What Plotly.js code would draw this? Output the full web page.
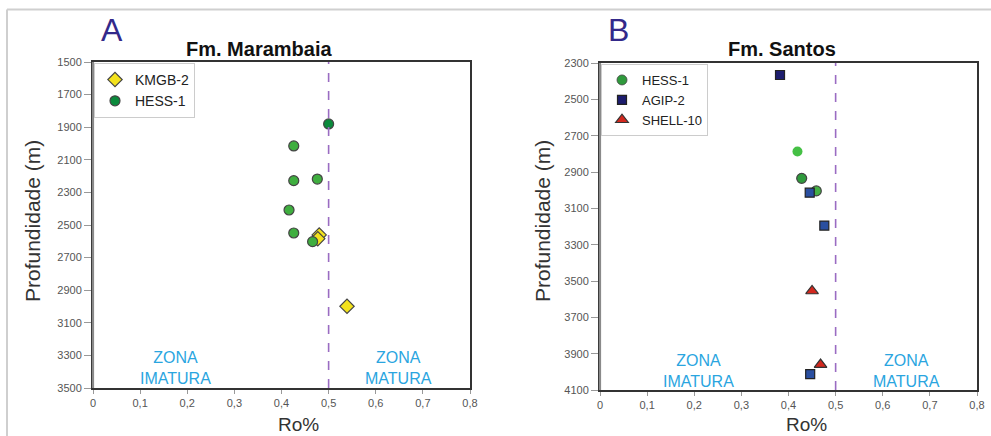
<!DOCTYPE html>
<html>
<head>
<meta charset="utf-8">
<script src="https://cdn.plot.ly/plotly-3.0.1.min.js"></script>
<style>html,body{margin:0;padding:0;background:#fff;}#chart{width:991px;height:436px;}</style>
</head>
<body>
<div id="chart"></div>
<script>
// ---- Data ----
const xTickVals = [0, 0.1, 0.2, 0.3, 0.4, 0.5, 0.6, 0.7, 0.8];
const xTickLabels = ['0', '0,1', '0,2', '0,3', '0,4', '0,5', '0,6', '0,7', '0,8'];
const leftDepthTicks = [1500, 1700, 1900, 2100, 2300, 2500, 2700, 2900, 3100, 3300, 3500];
const rightDepthTicks = [2300, 2500, 2700, 2900, 3100, 3300, 3500, 3700, 3900, 4100];
const maturityThreshold = 0.5;

// Fm. Marambaia
const marKmgbRo = [0.480, 0.477, 0.539];
const marKmgbDepth = [2561, 2584, 2999];
const marHessRo = [0.500, 0.426, 0.426, 0.476, 0.416, 0.426, 0.466];
const marHessDepth = [1880, 2015, 2228, 2218, 2408, 2549, 2602];

// Fm. Santos
const sanHessRo = [0.428, 0.419, 0.459];
const sanHessDepth = [2935, 2787, 3004];
const sanAgipRo = [0.382, 0.445, 0.476, 0.446];
const sanAgipDepth = [2366, 3014, 3195, 4013];
const sanShellRo = [0.450, 0.468];
const sanShellDepth = [3555, 3960];

// ---- Styles ----
const FAM = '"Liberation Sans", Arial, sans-serif';
const tickFont = {family: '"Liberation Sans Narrow", "Liberation Sans", Arial, sans-serif', size: 11, color: '#555'};
const legendFont = {family: '"Liberation Sans Narrow", "Liberation Sans", Arial, sans-serif', size: 14, color: '#222'};
const zoneFont = {family: FAM, size: 16, color: '#2aa5df'};

const traces = [
  {x: marKmgbRo, y: marKmgbDepth, name: 'KMGB-2', type: 'scatter', mode: 'markers', xaxis: 'x', yaxis: 'y', legend: 'legend',
   marker: {symbol: 'diamond', size: 11, color: '#f3e21c', line: {color: '#444', width: 1.2}}},
  {x: marHessRo, y: marHessDepth, name: 'HESS-1', type: 'scatter', mode: 'markers', xaxis: 'x', yaxis: 'y', legend: 'legend',
   marker: {symbol: 'circle', size: 10, color: ['#0b8a3c', '#3fae3f', '#3fae3f', '#3fae3f', '#3fae3f', '#3fae3f', '#3fae3f'], line: {color: '#444', width: 1.2}}},
  {x: sanHessRo, y: sanHessDepth, name: 'HESS-1', type: 'scatter', mode: 'markers', xaxis: 'x2', yaxis: 'y2', legend: 'legend2',
   marker: {symbol: 'circle', size: 10, color: ['#2f9a3c', '#45c045', '#45b045'], line: {color: '#444', width: [1.2, 0, 1.2]}}},
  {x: sanAgipRo, y: sanAgipDepth, name: 'AGIP-2', type: 'scatter', mode: 'markers', xaxis: 'x2', yaxis: 'y2', legend: 'legend2',
   marker: {symbol: 'square', size: 9, color: ['#1d1d6e', '#2a4fa0', '#2a4fa0', '#2a4fa0'], line: {color: '#222', width: 1.2}}},
  {x: sanShellRo, y: sanShellDepth, name: 'SHELL-10', type: 'scatter', mode: 'markers', xaxis: 'x2', yaxis: 'y2', legend: 'legend2',
   marker: {symbol: 'triangle-up', size: 11, color: '#d3281e', line: {color: '#333', width: 1.2}}}
];

function xAxis(domain, anchor) {
  return {domain: domain, anchor: anchor, range: [0, 0.8], tickvals: xTickVals, ticktext: xTickLabels,
    tickfont: tickFont, ticks: 'outside', ticklen: 4, tickcolor: '#999', showgrid: false, zeroline: false,
    showline: true, linecolor: '#333', linewidth: 2, mirror: true, fixedrange: true};
}
function yAxis(domain, anchor, range, ticks) {
  return {domain: domain, anchor: anchor, range: range, tickvals: ticks, tickfont: tickFont,
    ticks: 'outside', ticklen: 7, tickcolor: '#999', showgrid: false, zeroline: false,
    showline: true, linecolor: '#333', linewidth: 2, mirror: true, fixedrange: true};
}

const W = 991, H = 436;
const layout = {
  width: W, height: H,
  margin: {l: 0, r: 0, t: 0, b: 0},
  paper_bgcolor: '#fff', plot_bgcolor: '#fff',
  showlegend: true,
  xaxis: xAxis([93 / W, 470 / W], 'y'),
  yaxis: yAxis([1 - 388 / H, 1 - 62 / H], 'x', [3500, 1500], leftDepthTicks),
  xaxis2: xAxis([600 / W, 977 / W], 'y2'),
  yaxis2: yAxis([1 - 390 / H, 1 - 63 / H], 'x2', [4100, 2300], rightDepthTicks),
  legend: {x: 94 / W, y: 1 - 63 / H, xanchor: 'left', yanchor: 'top', bgcolor: '#fff', bordercolor: '#ccc', borderwidth: 1,
    font: legendFont, tracegroupgap: 0, itemwidth: 30},
  legend2: {x: 601 / W, y: 1 - 64 / H, xanchor: 'left', yanchor: 'top', bgcolor: '#fff', bordercolor: '#ccc', borderwidth: 1,
    font: {family: legendFont.family, size: 13, color: '#222'}, tracegroupgap: 0, itemwidth: 30},
  shapes: [
    {type: 'line', xref: 'x', yref: 'y domain', x0: maturityThreshold, x1: maturityThreshold, y0: 0, y1: 1,
     line: {color: '#9a6cc2', width: 1.6, dash: 'dash'}},
    {type: 'line', xref: 'x2', yref: 'y2 domain', x0: maturityThreshold, x1: maturityThreshold, y0: 0, y1: 1,
     line: {color: '#9a6cc2', width: 1.6, dash: 'dash'}},
    {type: 'line', xref: 'x domain', yref: 'y domain', x0: 0, x1: 0, y0: 0, y1: 1, line: {color: '#8a8a8a', width: 2.2}},
    {type: 'line', xref: 'x2 domain', yref: 'y2 domain', x0: 0, x1: 0, y0: 0, y1: 1, line: {color: '#8a8a8a', width: 2.2}},
    {type: 'line', xref: 'paper', yref: 'paper', x0: 7 / W, x1: 1, y0: 1 - 9.5 / H, y1: 1 - 9.5 / H, line: {color: '#cfcfcf', width: 2}},
    {type: 'line', xref: 'paper', yref: 'paper', x0: 7 / W, x1: 7 / W, y0: 0, y1: 1 - 9.5 / H, line: {color: '#cfcfcf', width: 2}}
  ],
  annotations: [
    {text: 'A', xref: 'paper', yref: 'paper', x: 112 / W, y: 1 - 30 / H, showarrow: false, xanchor: 'center', yanchor: 'middle',
     font: {family: FAM, size: 32, color: '#33298a'}},
    {text: 'B', xref: 'paper', yref: 'paper', x: 618 / W, y: 1 - 30 / H, showarrow: false, xanchor: 'center', yanchor: 'middle',
     font: {family: FAM, size: 32, color: '#33298a'}},
    {text: '<b>Fm. Marambaia</b>', xref: 'paper', yref: 'paper', x: 259 / W, y: 1 - 49 / H, showarrow: false, xanchor: 'center', yanchor: 'middle',
     font: {family: FAM, size: 20, color: '#111'}},
    {text: '<b>Fm. Santos</b>', xref: 'paper', yref: 'paper', x: 782 / W, y: 1 - 49 / H, showarrow: false, xanchor: 'center', yanchor: 'middle',
     font: {family: FAM, size: 20, color: '#111'}},
    {text: 'Ro%', xref: 'paper', yref: 'paper', x: 298 / W, y: 1 - 424 / H, showarrow: false, xanchor: 'center', yanchor: 'middle',
     font: {family: FAM, size: 19, color: '#333'}},
    {text: 'Ro%', xref: 'paper', yref: 'paper', x: 806 / W, y: 1 - 424 / H, showarrow: false, xanchor: 'center', yanchor: 'middle',
     font: {family: FAM, size: 19, color: '#333'}},
    {text: 'Profundidade (m)', xref: 'paper', yref: 'paper', x: 32 / W, y: 1 - 221 / H, showarrow: false, textangle: -90,
     xanchor: 'center', yanchor: 'middle', font: {family: FAM, size: 21, color: '#333'}},
    {text: 'Profundidade (m)', xref: 'paper', yref: 'paper', x: 542 / W, y: 1 - 221 / H, showarrow: false, textangle: -90,
     xanchor: 'center', yanchor: 'middle', font: {family: FAM, size: 21, color: '#333'}},
    {text: 'ZONA<br>IMATURA', xref: 'x', yref: 'y', x: 0.175, y: 3375, showarrow: false, xanchor: 'center', yanchor: 'middle', font: zoneFont},
    {text: 'ZONA<br>MATURA', xref: 'x', yref: 'y', x: 0.648, y: 3375, showarrow: false, xanchor: 'center', yanchor: 'middle', font: zoneFont},
    {text: 'ZONA<br>IMATURA', xref: 'x2', yref: 'y2', x: 0.209, y: 3995, showarrow: false, xanchor: 'center', yanchor: 'middle', font: zoneFont},
    {text: 'ZONA<br>MATURA', xref: 'x2', yref: 'y2', x: 0.651, y: 3995, showarrow: false, xanchor: 'center', yanchor: 'middle', font: zoneFont}
  ]
};

Plotly.newPlot('chart', traces, layout, {staticPlot: true, displayModeBar: false});
</script>
</body>
</html>
